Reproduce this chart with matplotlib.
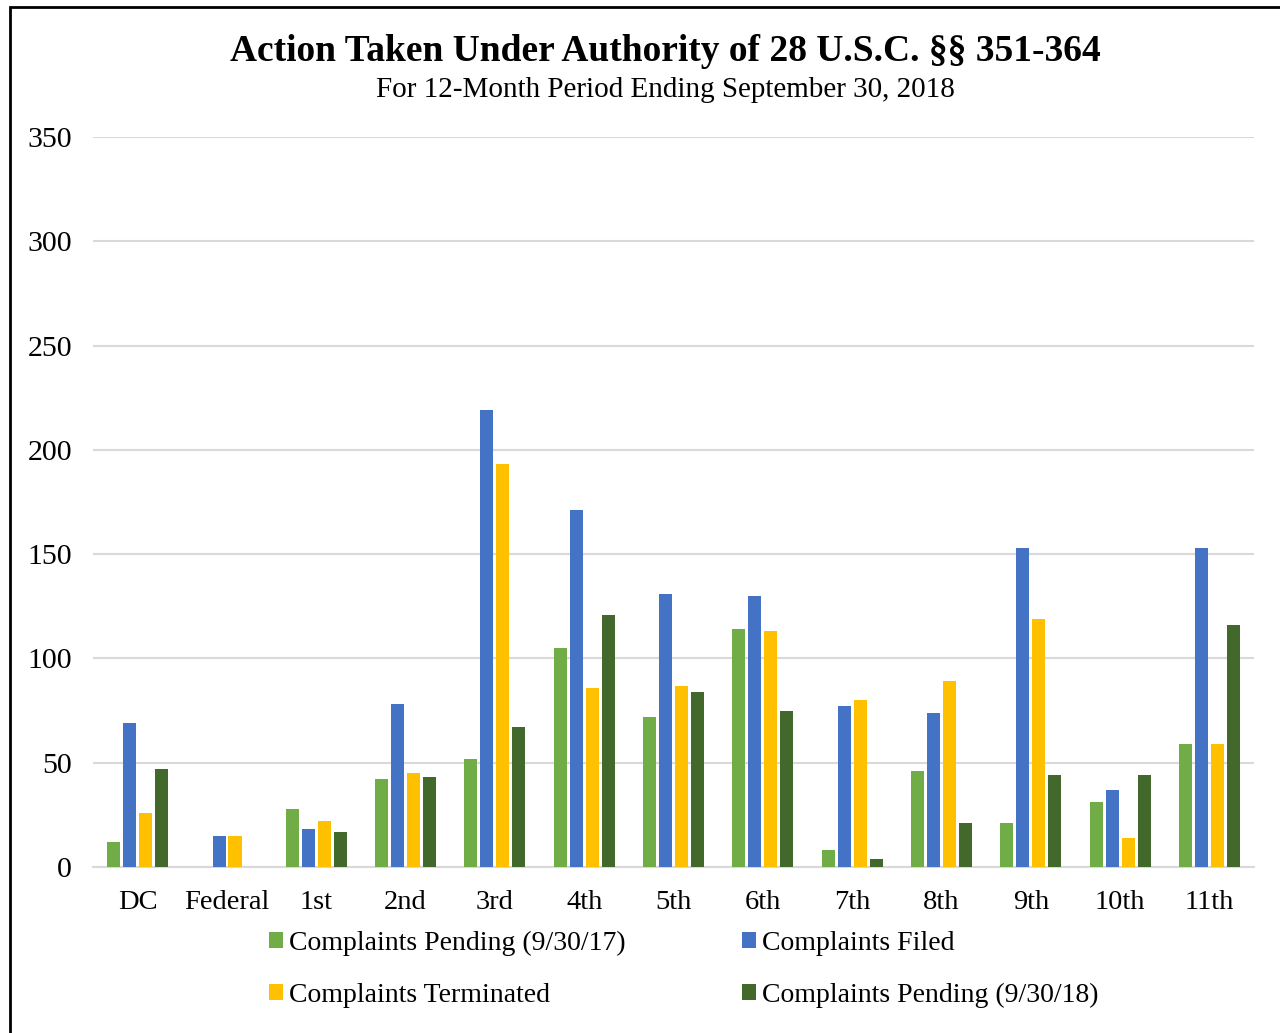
import numpy as np
import matplotlib.pyplot as plt
from matplotlib.patches import Rectangle

# circuits and complaint counts
circuits = ["DC", "Federal", "1st", "2nd", "3rd", "4th", "5th", "6th",
            "7th", "8th", "9th", "10th", "11th"]
pending_17 = [12, 0, 28, 42, 52, 105, 72, 114, 8, 46, 21, 31, 59]
filed = [69, 15, 18, 78, 219, 171, 131, 130, 77, 74, 153, 37, 153]
terminated = [26, 15, 22, 45, 193, 86, 87, 113, 80, 89, 119, 14, 59]
pending_18 = [47, 0, 17, 43, 67, 121, 84, 75, 4, 21, 44, 44, 116]

series = [
    ("Complaints Pending (9/30/17)", pending_17, "#70AD47"),
    ("Complaints Filed", filed, "#4472C4"),
    ("Complaints Terminated", terminated, "#FFC000"),
    ("Complaints Pending (9/30/18)", pending_18, "#43682B"),
]

plt.rcParams['font.family'] = ['Liberation Serif', 'DejaVu Serif']

fig = plt.figure(figsize=(12.8, 10.33), dpi=100)
ax = fig.add_axes([0.0727, 0.1607, 0.907, 0.7067])

x = np.arange(len(circuits))
step = 0.179
width = 0.146
bars = {}
for i, (name, vals, color) in enumerate(series):
    bars[name] = ax.bar(x + (i - 1.5) * step, vals, width, color=color,
                        label=name, zorder=3)

ax.set_xlim(-0.5, len(circuits) - 0.5)
ax.set_ylim(0, 350)
ax.set_yticks(range(0, 351, 50))
ax.set_xticks(x)
ax.set_xticklabels(circuits)
ax.tick_params(axis='both', length=0)
ax.tick_params(axis='y', pad=15, labelsize=21.5)
ax.tick_params(axis='x', pad=16.5, labelsize=20.5)
ax.grid(axis='y', color='#d9d9d9', linewidth=1.5, zorder=0)
for side in ['top', 'right', 'left']:
    ax.spines[side].set_visible(False)
ax.spines['bottom'].set_color('#d9d9d9')
ax.spines['bottom'].set_linewidth(1.5)

fig.text(0.5195, 0.9505, "Action Taken Under Authority of 28 U.S.C. §§ 351-364",
         ha='center', va='center', fontsize=27, fontweight='bold')
fig.text(0.5195, 0.913, "For 12-Month Period Ending September 30, 2018",
         ha='center', va='center', fontsize=21)

order = [series[0][0], series[2][0], series[1][0], series[3][0]]
fig.legend([bars[n] for n in order], order, ncol=2, frameon=False,
           loc='upper left', bbox_to_anchor=(0.2105, 0.0987),
           fontsize=20, handlelength=0.5, handleheight=0.5,
           handletextpad=0.2, columnspacing=4.2, labelspacing=0.96,
           borderpad=0, borderaxespad=0)

# outer frame
fig.add_artist(Rectangle((10 / 1280, -0.1), 1.2, 1.1 - 7 / 1033,
                         transform=fig.transFigure, fill=False,
                         edgecolor='black', linewidth=2))

fig.savefig("out.png", dpi=100)
